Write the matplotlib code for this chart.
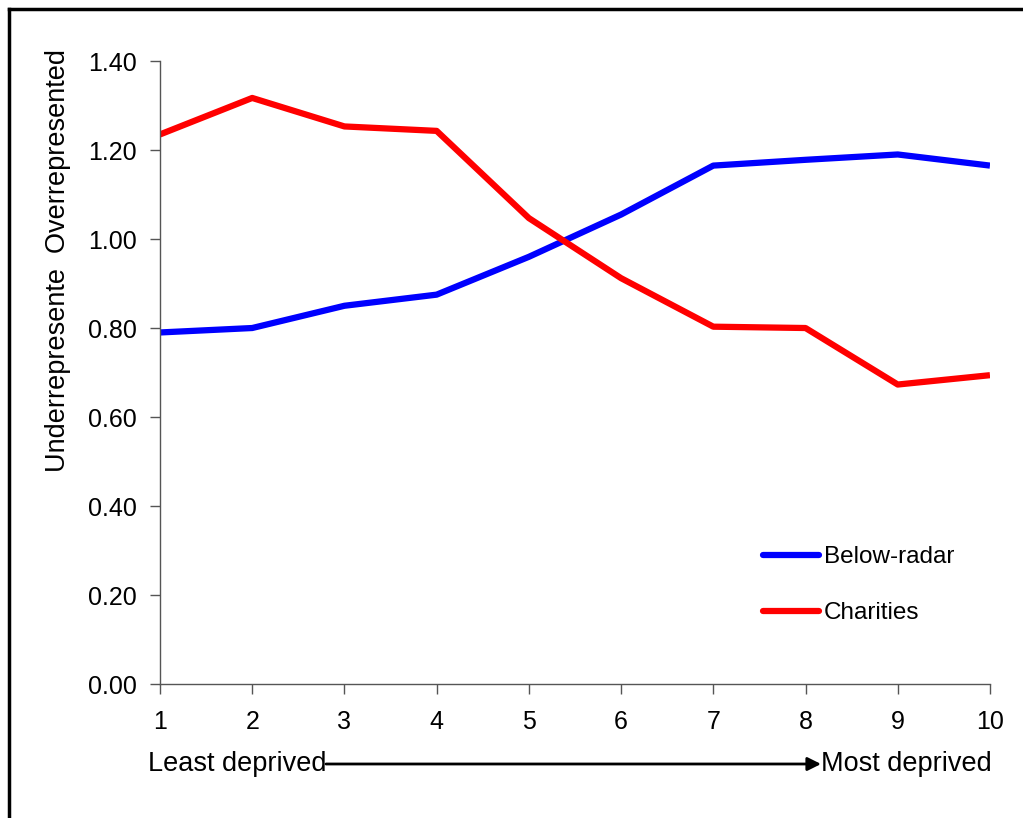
import matplotlib
matplotlib.use("Agg")
import matplotlib.pyplot as plt
from matplotlib.lines import Line2D

plt.rcParams['font.family'] = ['Liberation Sans', 'DejaVu Sans']

# deprivation deciles
deciles = [1, 2, 3, 4, 5, 6, 7, 8, 9, 10]
below_radar = [0.79, 0.80, 0.85, 0.875, 0.96, 1.055, 1.165, 1.178, 1.19, 1.165]
charities = [1.235, 1.317, 1.253, 1.243, 1.047, 0.912, 0.803, 0.80, 0.673, 0.694]
y_ticks = [0.0, 0.2, 0.4, 0.6, 0.8, 1.0, 1.2, 1.4]

fig = plt.figure(figsize=(10.23, 8.18), dpi=100)
ax = fig.add_axes([0.1564, 0.1638, 0.8113, 0.7616])

ax.plot(deciles, below_radar, color='#0000ff', lw=4.5, label='Below-radar', solid_capstyle='butt')
ax.plot(deciles, charities, color='#ff0000', lw=4.5, label='Charities', solid_capstyle='butt')

ax.set_xlim(1, 10)
ax.set_ylim(0, 1.4)
ax.set_xticks(deciles)
ax.set_yticks(y_ticks)
ax.set_yticklabels([f"{v:.2f}" for v in y_ticks])
ax.tick_params(labelsize=18, length=7, width=1, color='#555555')
ax.tick_params(axis='x', pad=12)
ax.tick_params(axis='y', pad=10)
for s in ['top', 'right']:
    ax.spines[s].set_visible(False)
for s in ['left', 'bottom']:
    ax.spines[s].set_color('#555555')
    ax.spines[s].set_linewidth(1)

# y axis label
fig.text(58/1023, 1-260/818, "Underrepresente  Overrepresented", rotation=90,
         ha='center', va='center', fontsize=19.5)

# legend
leg = ax.legend(loc='upper left', bbox_to_anchor=(763/1023, 1-546/818), bbox_transform=fig.transFigure,
                frameon=False, fontsize=17.5, handlelength=2.3, handletextpad=0.2,
                labelspacing=1.4, borderaxespad=0, borderpad=0)
for h in leg.get_lines():
    h.set_solid_capstyle('round')

# bottom annotation
fig.text(148/1023, 1-764/818, "Least deprived", ha='left', va='center', fontsize=19.5)
fig.text(992/1023, 1-764/818, "Most deprived", ha='right', va='center', fontsize=19.5)
ax.annotate('', xy=(821/1023, 1-764/818), xytext=(326/1023, 1-764/818),
            xycoords='figure fraction', textcoords='figure fraction',
            arrowprops=dict(arrowstyle='-|>', color='black', lw=2, mutation_scale=20,
                            shrinkA=0, shrinkB=0))

# frame around the chart area
fig.add_artist(Line2D([9/1023, 9/1023], [0, 1-9/818], color='black', lw=2.5))
fig.add_artist(Line2D([9/1023, 1], [1-9/818, 1-9/818], color='black', lw=2.5))

plt.savefig("out.png", dpi=100)
